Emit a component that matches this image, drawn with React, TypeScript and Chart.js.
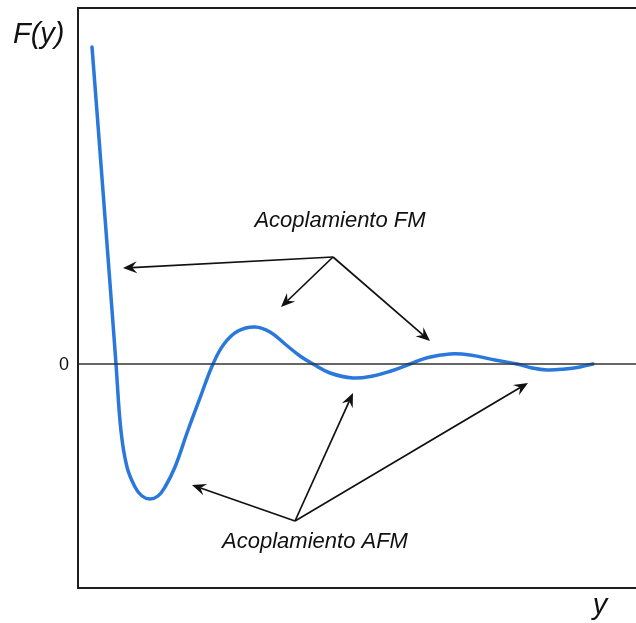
import React, { useEffect, useRef } from "react";
import { Chart, registerables } from "chart.js";

Chart.register(...registerables);

// Curve F(y)
const yPositions = [
  0.14, 0.19, 0.24, 0.29, 0.34, 0.38, 0.43, 0.49, 0.57, 0.64, 0.72, 0.8, 0.87, 0.97, 1.09,
  1.22, 1.35, 1.46, 1.6, 1.77, 1.92, 2.07, 2.22, 2.35, 2.52, 2.75, 2.95, 3.13, 3.32, 3.5, 3.72,
  3.92, 4.17, 4.39, 4.54, 4.69, 4.87, 5.02, 5.15,
];
const fValues = [
  3.17, 2.52, 1.86, 1.2, 0.54, 0.0, -0.67, -1.03, -1.23, -1.32, -1.35, -1.32, -1.23, -1.03, -0.69,
  -0.34, 0.0, 0.2, 0.33, 0.37, 0.32, 0.2, 0.08, 0.0, -0.09, -0.14, -0.12, -0.07, 0.0, 0.065, 0.1,
  0.09, 0.04, 0.0, -0.04, -0.06, -0.05, -0.03, 0.0,
];

// Annotations (data coordinates)
const fmLabel = "Acoplamiento FM";
const fmLabelPos = [2.62, 1.37];
const fmOrigin = [2.55, 1.07];
const fmTargets = [
  [0.45, 0.96],
  [2.03, 0.57],
  [3.52, 0.23],
];
const afmLabel = "Acoplamiento AFM";
const afmLabelPos = [2.37, -1.84];
const afmOrigin = [2.17, -1.57];
const afmTargets = [
  [1.14, -1.21],
  [2.75, -0.29],
  [4.5, -0.19],
];
const yAxisLabel = "F(y)";
const xAxisLabel = "y";
const zeroLabel = "0";

const X_MIN = 0;
const X_MAX = 5.58;
const Y_MIN = -2.24;
const Y_MAX = 3.56;

function drawArrow(ctx: CanvasRenderingContext2D, x0: number, y0: number, x1: number, y1: number) {
  const ang = Math.atan2(y1 - y0, x1 - x0);
  const len = 14;
  const half = 6;
  const notch = 9;
  ctx.beginPath();
  ctx.moveTo(x0, y0);
  ctx.lineTo(x1 - Math.cos(ang) * notch, y1 - Math.sin(ang) * notch);
  ctx.stroke();
  ctx.save();
  ctx.translate(x1, y1);
  ctx.rotate(ang);
  ctx.beginPath();
  ctx.moveTo(0, 0);
  ctx.lineTo(-len, -half);
  ctx.lineTo(-notch, 0);
  ctx.lineTo(-len, half);
  ctx.closePath();
  ctx.fill();
  ctx.restore();
}

const decorPlugin = {
  id: "decor",
  afterDatasetsDraw(chart: any) {
    const { ctx, chartArea, scales } = chart;
    const { left, top, bottom } = chartArea;
    const right = chart.width;
    const y0 = scales.y.getPixelForValue(0);
    ctx.save();
    // zero line
    ctx.strokeStyle = "#333333";
    ctx.lineWidth = 1.3;
    ctx.beginPath();
    ctx.moveTo(left, y0);
    ctx.lineTo(right, y0);
    ctx.stroke();
    // frame
    ctx.strokeStyle = "#1e1e1e";
    ctx.lineWidth = 2;
    ctx.beginPath();
    ctx.moveTo(right, top);
    ctx.lineTo(left, top);
    ctx.lineTo(left, bottom);
    ctx.lineTo(right, bottom);
    ctx.stroke();

    // arrows
    ctx.strokeStyle = "#111111";
    ctx.fillStyle = "#111111";
    ctx.lineWidth = 1.7;
    const px = (p: number[]) => [scales.x.getPixelForValue(p[0]), scales.y.getPixelForValue(p[1])];
    const [fx, fy] = px(fmOrigin);
    fmTargets.forEach((t) => {
      const [tx, ty] = px(t);
      drawArrow(ctx, fx, fy, tx, ty);
    });
    const [ax, ay] = px(afmOrigin);
    afmTargets.forEach((t) => {
      const [tx, ty] = px(t);
      drawArrow(ctx, ax, ay, tx, ty);
    });

    // labels
    ctx.fillStyle = "#111111";
    ctx.textAlign = "center";
    ctx.textBaseline = "alphabetic";
    ctx.font = "italic 22px 'Liberation Sans', Arial, sans-serif";
    const [lx, ly] = px(fmLabelPos);
    ctx.fillText(fmLabel, lx, ly);
    const [lx2, ly2] = px(afmLabelPos);
    ctx.fillText(afmLabel, lx2, ly2);

    ctx.font = "italic 29px 'Liberation Sans', Arial, sans-serif";
    ctx.textAlign = "left";
    ctx.fillText(yAxisLabel, left - 65, top + 35);
    ctx.textAlign = "center";
    ctx.fillText(xAxisLabel, 600, bottom + 26);

    ctx.font = "18px 'Liberation Sans', Arial, sans-serif";
    ctx.textBaseline = "middle";
    ctx.fillText(zeroLabel, left - 14, y0 + 1);
    ctx.restore();
  },
};

export default function App() {
  const canvasRef = useRef<HTMLCanvasElement | null>(null);
  useEffect(() => {
    document.body.style.margin = "0";
    const canvas = canvasRef.current;
    if (!canvas) return;
    const chart = new Chart(canvas, {
      type: "line",
      data: {
        datasets: [
          {
            data: yPositions.map((x, i) => ({ x, y: fValues[i] })),
            borderColor: "#2a78db",
            borderWidth: 3.5,
            pointRadius: 0,
            tension: 0.4,
            borderCapStyle: "round",
            borderJoinStyle: "round",
            fill: false,
          },
        ],
      },
      options: {
        responsive: false,
        animation: false,
        devicePixelRatio: 1,
        layout: { padding: { left: 78, top: 8, right: 0, bottom: 35 } },
        plugins: { legend: { display: false }, tooltip: { enabled: false } },
        scales: {
          x: { type: "linear", min: X_MIN, max: X_MAX, display: false },
          y: { type: "linear", min: Y_MIN, max: Y_MAX, display: false },
        },
      },
      plugins: [decorPlugin],
    } as any);
    return () => chart.destroy();
  }, []);
  return (
    <div style={{ position: "absolute", left: 0, top: 0, width: 636, height: 623, background: "#fff" }}>
      <canvas ref={canvasRef} width={636} height={623} style={{ display: "block" }} />
    </div>
  );
}
